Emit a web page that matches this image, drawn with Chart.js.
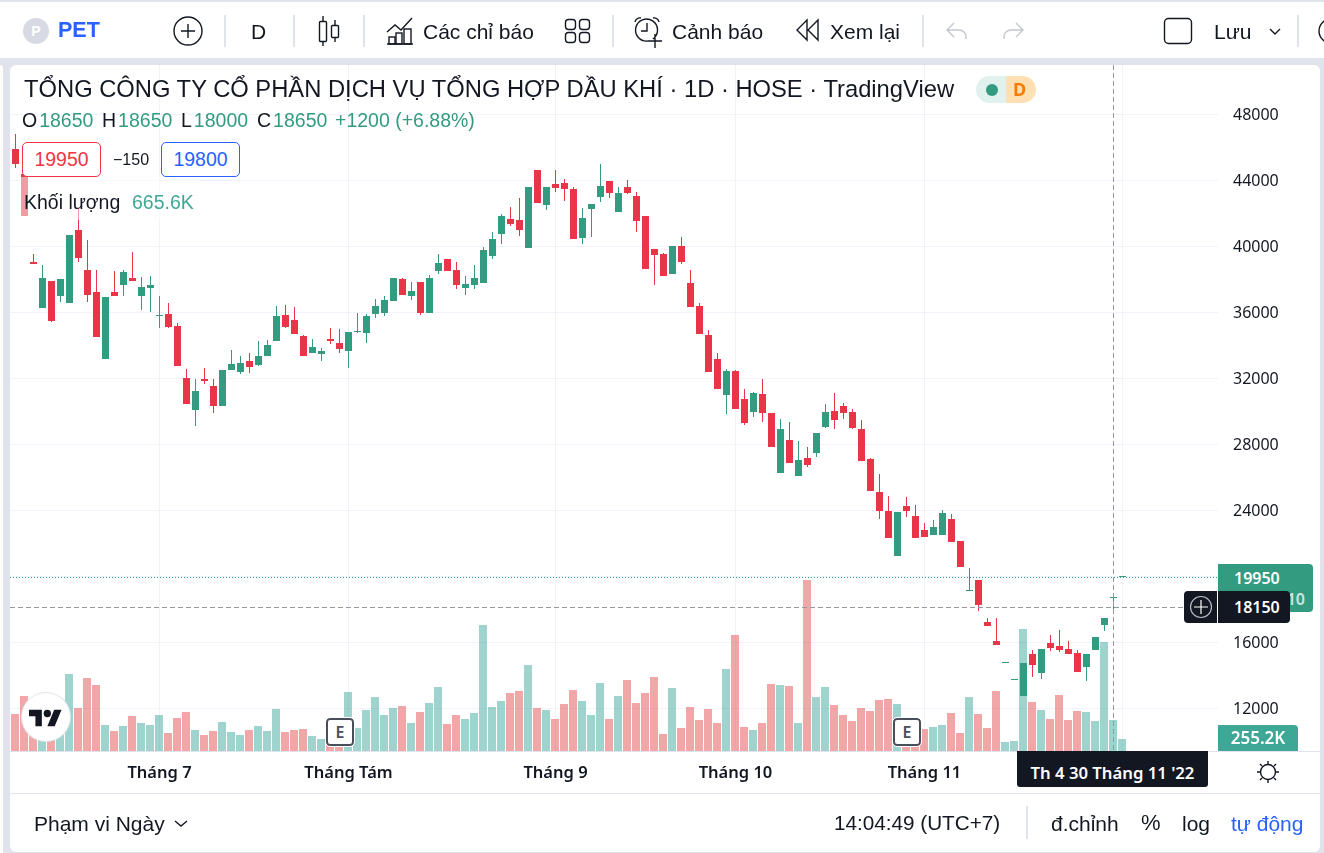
<!DOCTYPE html>
<html lang="vi">
<head>
<meta charset="utf-8">
<title>PET</title>
<script src="https://cdn.jsdelivr.net/npm/chart.js@4/dist/chart.umd.min.js"></script>
<style>
    html, body { margin: 0; padding: 0; width: 1324px; height: 853px; overflow: hidden; background: #e0e3eb; }
    body { position: relative; font-family: 'Liberation Sans', Arial, sans-serif; color: #131722; }
    canvas { position: absolute; left: 0; top: 0; z-index: 2; }
    .panel { position: absolute; background: #fff; z-index: 1; }
    .ui { position: absolute; z-index: 3; }
    .t { position: absolute; z-index: 3; white-space: nowrap; line-height: 1; transform: translateY(-50%); }
    .sep { position: absolute; z-index: 3; width: 2px; background: #e0e3eb; }
    .up { color: #339b80; }
    .chip { position: absolute; z-index: 3; box-sizing: border-box; width: 79px; height: 35px; top: 142px; background: #fff; border: 1px solid; border-radius: 5px; font-size: 19.5px; line-height: 33px; text-align: center; }
    .tag { position: absolute; z-index: 3; color: #fff; font: 600 16px 'Noto Sans', sans-serif; }
    .earn { position: absolute; z-index: 3; box-sizing: border-box; width: 28px; height: 28px; top: 718px; background: #fff; border: 2px solid #4a4e5a; border-radius: 4px; outline: 1px solid #fff; color: #4a4e5a; font: 600 16px/24px 'Noto Sans', sans-serif; text-align: center; }
    svg.ui { fill: none; stroke: #131722; stroke-width: 1.4; overflow: visible; }
</style>
</head>
<body>

<!-- page panels -->
<div class="panel" style="left:0;top:2px;width:1324px;height:56px"></div>
<div class="panel" style="left:0;top:65px;width:3px;height:788px;border-radius:0 6px 0 0"></div>
<div class="panel" style="left:10px;top:65px;width:1310px;height:787px;border-radius:6px"></div>
<div class="panel" style="left:10px;top:751px;width:1310px;height:1px;background:#e0e3eb"></div>
<div class="panel" style="left:10px;top:793px;width:1310px;height:1px;background:#e0e3eb"></div>

<canvas id="petChart" width="1324" height="853"></canvas>

<!-- top toolbar -->
<div class="ui" style="left:23px;top:18px;width:26px;height:26px;border-radius:50%;background:#d7dae3;color:#fff;font:bold 14px/26px 'Liberation Sans';text-align:center">P</div>
<div class="t" style="left:58px;top:31px;font-size:21.500px;font-weight:bold;color:#2962ff">PET</div>
<svg class="ui" style="left:0;top:0" width="1324" height="60">
    <circle cx="188" cy="31" r="14"/><path d="M181 31h14M188 24v14"/>
    <path d="M323 16v5M323 41v5M335 20v5M335 37v5"/><rect x="319.500" y="21.500" width="7" height="20" rx="1"/><rect x="331.500" y="25.500" width="7" height="12" rx="1"/>
    <path d="M387 32l8-7 6 5 11-12M387 44h26"/><rect x="389" y="37" width="6" height="7"/><rect x="396" y="33" width="6" height="11"/><rect x="404" y="29" width="7" height="15"/>
    <rect x="565.500" y="19.500" width="10" height="10" rx="3"/><rect x="579.500" y="19.500" width="10" height="10" rx="3"/><rect x="565.500" y="32.500" width="10" height="10" rx="3"/><rect x="579.500" y="32.500" width="10" height="10" rx="3"/>
    <path d="M653 39a11 11 0 1 0-5 2M647 23v8h-6M635 22a5 5 0 0 1 6-4M653 18a5 5 0 0 1 6 4M648 41h14M655 34v14"/>
    <path d="M807 20l-10 10 10 10zM818 20l-10 10 10 10z"/>
    <path d="M954 23l-7 7 7 7M947 30h12a7 7 0 0 1 7 7v2" stroke="#c3c6ce"/>
    <path d="M1016 23l7 7-7 7M1023 30h-12a7 7 0 0 0-7 7v2" stroke="#c3c6ce"/>
    <rect x="1164.500" y="18.500" width="27" height="25" rx="4"/>
    <path d="M1270 29l5 5 5-5"/>
    <circle cx="1331" cy="31" r="12"/>
</svg>
<div class="t" style="left:251px;top:31px;font-size:21px">D</div>
<div class="t" style="left:423px;top:31px;font-size:21px">Các chỉ báo</div>
<div class="t" style="left:672px;top:31px;font-size:21px">Cảnh báo</div>
<div class="t" style="left:830px;top:31px;font-size:21px">Xem lại</div>
<div class="t" style="left:1214px;top:31px;font-size:21px">Lưu</div>
<div class="sep" style="left:224px;top:15px;height:32px"></div>
<div class="sep" style="left:293px;top:15px;height:32px"></div>
<div class="sep" style="left:363px;top:15px;height:32px"></div>
<div class="sep" style="left:612px;top:15px;height:32px"></div>
<div class="sep" style="left:922px;top:15px;height:32px"></div>
<div class="sep" style="left:1297px;top:15px;height:32px"></div>

<!-- series legend -->
<div class="t" style="left:24px;top:89px;font-size:23.750px">TỔNG CÔNG TY CỔ PHẦN DỊCH VỤ TỔNG HỢP DẦU KHÍ · 1D · HOSE · TradingView</div>
<div class="ui" style="left:976px;top:76px;width:30px;height:27px;background:#e0f1ee;border-radius:14px 0 0 14px"></div>
<div class="ui" style="left:986px;top:84px;width:12px;height:12px;background:#339b80;border-radius:50%"></div>
<div class="ui" style="left:1006px;top:76px;width:30px;height:27px;background:#ffe0b2;border-radius:0 14px 14px 0;color:#f57c00;font:bold 18px/27px 'Noto Sans';text-align:center;box-sizing:border-box;padding-right:3px">D</div>
<div class="t" style="left:22px;top:121px;font-size:19.500px">O<span class="up" style="margin-left:2px">18650</span></div>
<div class="t" style="left:102px;top:121px;font-size:19.500px">H<span class="up" style="margin-left:2px">18650</span></div>
<div class="t" style="left:181px;top:121px;font-size:19.500px">L<span class="up" style="margin-left:2px">18000</span></div>
<div class="t" style="left:257px;top:121px;font-size:19.500px">C<span class="up" style="margin-left:2px">18650</span></div>
<div class="t up" style="left:335px;top:121px;font-size:19.500px">+1200 (+6.88%)</div>
<div class="chip" style="left:22px;color:#f23645;border-color:#f23645">19950</div>
<div class="t" style="left:113px;top:160px;font-size:16px">−150</div>
<div class="chip" style="left:161px;color:#2962ff;border-color:#2962ff">19800</div>
<div class="ui" style="left:20px;top:177px;width:180px;height:43px;background:rgba(255,255,255,.5)"></div>
<div class="t" style="left:24px;top:203px;font-size:19.500px">Khối lượng</div>
<div class="t" style="left:132px;top:203px;font-size:19.500px;color:#3fa796">665.6K</div>

<!-- watermark logo and earnings badges -->
<div class="ui" style="left:22px;top:693px;width:48px;height:48px;border-radius:50%;background:#fff;box-shadow:0 0 0 1px #e0e3eb"></div>
<svg class="ui" style="left:29px;top:706px;fill:#131722;stroke:none" width="33" height="26" viewBox="0 0 36 28"><path d="M14 22H7V11H0V4h14v18zM28 22h-8l7.500-18h8L28 22z"/><circle cx="20" cy="8" r="4"/></svg>
<div class="earn" style="left:326px">E</div>
<div class="earn" style="left:893px">E</div>

<!-- price scale tags -->
<div class="tag" style="left:1218px;top:564px;width:95px;height:48px;background:#339b80;border-radius:0 4px 4px 0"></div>
<div class="tag" style="left:1234px;top:569px;line-height:18px">19950</div>
<div class="tag" style="left:1264px;top:590px;line-height:18px;opacity:.75">55:10</div>
<div class="tag" style="left:1184px;top:591px;width:33px;height:32px;background:#131722;border-radius:4px 0 0 4px"></div>
<div class="tag" style="left:1218px;top:591px;width:72px;height:32px;background:#131722;border-radius:0 4px 4px 0;text-indent:16px;line-height:32px">18150</div>
<svg class="ui" style="left:1189px;top:595px;stroke:#fff;stroke-width:1.200" width="24" height="24"><circle cx="12" cy="12" r="10.500" stroke="#b8bbc2"/><path d="M5 12h14M12 5v14"/></svg>
<div class="tag" style="left:1218px;top:725px;width:80px;height:26px;background:#3fa796;border-radius:0 4px 0 0;text-align:center;font-size:17px;line-height:26px">255.2K</div>

<!-- time scale crosshair label and settings -->
<div class="tag" style="left:1017px;top:751px;width:191px;height:36px;background:#131722;border-radius:0 0 3px 3px;text-align:center;font-size:16.700px;line-height:44px">Th 4 30 Tháng 11 '22</div>
<svg class="ui" style="left:1256px;top:760px" width="24" height="24"><circle cx="12" cy="12" r="7.500"/><path d="M12 1v3M12 20v3M1 12h3M20 12h3M4 4l2 2M18 18l2 2M20 4l-2 2M6 18l-2 2"/></svg>

<!-- bottom bar -->
<div class="t" style="left:34px;top:823px;font-size:21px">Phạm vi Ngày</div>
<svg class="ui" style="left:174px;top:820px" width="14" height="8"><path d="M1 1l6 5 6-5"/></svg>
<div class="t" style="left:834px;top:823px;font-size:20.700px">14:04:49 (UTC+7)</div>
<div class="sep" style="left:1026px;top:806px;height:33px"></div>
<div class="t" style="left:1051px;top:823px;font-size:21px">đ.chỉnh</div>
<div class="t" style="left:1141px;top:823px;font-size:22px">%</div>
<div class="t" style="left:1182px;top:823px;font-size:21px">log</div>
<div class="t" style="left:1231px;top:823px;font-size:21px;color:#2962ff">tự động</div>

<script>
document.addEventListener('DOMContentLoaded', function () {

    // ── Daily OHLC and volume (volume in thousands) ──
    const opens = [
        45900, 44350, 39050, 36250, 37900, 36950, 36550, 40950, 38550, 37200,
        33150, 37200, 37650, 38050, 36950, 37450, 35750, 35900, 35150, 32000,
        30050, 31950, 31500, 30300, 32500, 32350, 33050, 32800, 33350, 34250,
        35800, 35500, 34550, 33500, 33450, 34350, 34100, 33650, 34800, 34750,
        35900, 35950, 36650, 38000, 36950, 37800, 35950, 38500, 39200, 38550,
        37450, 37650, 37750, 39400, 40750, 41650, 41600, 39900, 44600, 42500,
        43750, 43800, 43450, 40500, 42250, 42950, 43950, 42050, 43600, 43050,
        41800, 39800, 39500, 38300, 40000, 37750, 36350, 34600, 33150, 30950,
        32400, 30750, 29950, 31050, 29900, 26250, 28250, 26050, 27150, 27450,
        29050, 30000, 30300, 29950, 28900, 27100, 25100, 23950, 21200, 24250,
        23650, 22800, 22500, 22500, 23450, 22100, 19100, 19750, 17200, 16050,
        14750, 13700, 12750, 15250, 14100, 15950, 15750, 15600, 15350, 14500,
        15500, 17050, 18650, 19950
    ];
    const highs = [
        46800, 44350, 39500, 38850, 37900, 38000, 40650, 42300, 40350, 38550,
        36900, 38500, 38550, 39650, 38100, 38200, 36950, 36550, 35350, 32550,
        31950, 32600, 31950, 32500, 33700, 33350, 33500, 34250, 34300, 36350,
        36400, 36300, 34600, 34350, 33800, 35050, 34950, 34800, 35950, 35900,
        36800, 36950, 38050, 38050, 37800, 37800, 38250, 39500, 39200, 39050,
        38200, 38850, 39950, 40850, 41950, 42350, 42900, 43600, 44600, 43600,
        44600, 44050, 43600, 42300, 42550, 44950, 43950, 43600, 44000, 43250,
        41800, 39800, 39600, 40000, 40550, 38550, 36550, 34900, 33500, 32550,
        32500, 31350, 31150, 31950, 29900, 29500, 29350, 28200, 27800, 28650,
        30400, 31100, 30500, 30100, 29450, 27150, 26200, 24850, 23900, 24800,
        24300, 23200, 23400, 24000, 23750, 22100, 20500, 19750, 17450, 17450,
        14800, 13750, 14750, 15500, 15600, 16400, 16750, 16050, 15500, 15250,
        16300, 17450, 18650, 19950
    ];
    const lows = [
        44750, 41800, 38900, 36250, 35400, 36600, 36550, 39050, 36600, 34500,
        33150, 36950, 36950, 37900, 36100, 36000, 35050, 35050, 32750, 30400,
        29100, 31650, 29900, 30300, 32500, 32250, 32300, 32750, 33350, 34250,
        35050, 34650, 33350, 33500, 33050, 34050, 33500, 32600, 34750, 34100,
        35650, 35750, 36650, 37050, 36750, 35800, 35950, 38300, 38500, 37400,
        37050, 37400, 37750, 39200, 40100, 41200, 40600, 39900, 42600, 42200,
        43250, 42750, 40400, 40100, 40550, 42650, 42900, 42050, 43150, 40850,
        38600, 37650, 38200, 38300, 38900, 36300, 34650, 32350, 31350, 29800,
        30100, 29150, 29650, 29350, 27800, 26250, 26850, 26050, 26600, 27200,
        28950, 28900, 29500, 28900, 26950, 25150, 23450, 22300, 21200, 23600,
        22300, 22350, 22500, 22500, 22050, 20550, 19100, 17900, 16950, 15800,
        14750, 13700, 12750, 13900, 13750, 15450, 15400, 15250, 14200, 13650,
        15500, 16650, 18000, 19950
    ];
    const closes = [
        44950, 41800, 38900, 38050, 35450, 38000, 40650, 39250, 37050, 34500,
        36900, 36950, 38400, 37900, 37500, 37650, 35800, 35100, 32750, 30400,
        31200, 31800, 30300, 32500, 32850, 32900, 32650, 33350, 34000, 35750,
        35100, 34650, 33350, 33900, 33650, 34250, 33750, 34800, 34850, 35750,
        36350, 36750, 38050, 37050, 37250, 35950, 38050, 38950, 38500, 37650,
        37700, 38050, 39750, 40400, 41800, 41350, 40950, 43600, 42600, 43600,
        43500, 43450, 40400, 41700, 42550, 43650, 43200, 43200, 43200, 41500,
        38600, 39450, 38200, 40000, 39050, 36300, 34650, 32350, 31350, 32400,
        30100, 29250, 31100, 29900, 27800, 28900, 26850, 27050, 26750, 28650,
        29950, 29450, 29900, 28950, 26950, 25150, 23950, 22300, 23900, 23950,
        22300, 22350, 22950, 23800, 22050, 20550, 19150, 18250, 16950, 15800,
        14800, 13750, 14750, 14600, 15600, 15650, 15500, 15250, 14200, 15250,
        16300, 17450, 18650, 19950
    ];
    const volumes = [
        788, 1172, 639, 533, 426, 639, 1640, 916, 1555, 1406,
        554, 426, 533, 746, 596, 554, 767, 383, 703, 831,
        447, 341, 426, 618, 405, 341, 447, 533, 426, 895,
        405, 447, 469, 320, 256, 298, 298, 1257, 490, 873,
        1150, 767, 916, 959, 596, 831, 1022, 1363, 575, 767,
        682, 809, 2684, 937, 1065, 1235, 1278, 1832, 916, 873,
        682, 1001, 1299, 1065, 767, 1448, 682, 1172, 1512, 1022,
        1235, 1576, 362, 1342, 490, 937, 660, 895, 596, 1747,
        2471, 511, 447, 596, 1427, 1406, 1385, 596, 3642, 1150,
        1363, 980, 767, 639, 916, 852, 1086, 1108, 1001, 533,
        426, 469, 511, 554, 809, 383, 1150, 788, 490, 1278,
        192, 213, 2599, 1044, 873, 682, 1193, 660, 852, 831,
        639, 2322, 665.6, 255.2
    ];

    const priceTicks  = [48000, 44000, 40000, 36000, 32000, 28000, 24000, 20000, 16000, 12000];
    const monthTicks  = [16, 37, 60, 80, 101, 123];
    const monthLabels = ['Tháng 7', 'Tháng Tám', 'Tháng 9', 'Tháng 10', 'Tháng 11', 'Tháng 12'];

    const lastPrice   = 19950;
    const cursorPrice = 18150;
    const cursorIndex = 122;

    // ── Colours ──
    const UP        = '#339b80';
    const DOWN      = '#e93548';
    const UP_VOL    = 'rgba(40, 160, 145, .45)';
    const DOWN_VOL  = 'rgba(228, 80, 80, .5)';
    const GRID      = '#f0f3fa';
    const AXIS_FONT = "'Noto Sans', sans-serif";

    const isUp = opens.map((o, i) => closes[i] >= o);

    // keep bar edges on whole pixels so bodies stay crisp
    const snapBars = {
        id: 'snapBars',
        beforeDatasetsDraw(chart) {
            chart.getSortedVisibleDatasetMetas().forEach(meta => {
                meta.data.forEach(el => {
                    el.y = Math.round(el.y);
                    el.base = Math.round(el.base);
                });
            });
        }
    };

    // last price line and the dashed crosshair
    const priceLines = {
        id: 'priceLines',
        afterDatasetsDraw(chart) {
            const { ctx, chartArea: area, scales } = chart;
            const lastY = Math.round(scales.y.getPixelForValue(lastPrice)) + .5;
            const curY  = Math.round(scales.y.getPixelForValue(cursorPrice)) + .5;
            const curX  = Math.floor(scales.x.getPixelForValue(cursorIndex)) + .5;

            ctx.save();
            ctx.lineWidth = 1;

            ctx.strokeStyle = UP;
            ctx.setLineDash([1, 2]);
            ctx.beginPath();
            ctx.moveTo(area.left, lastY);
            ctx.lineTo(area.right, lastY);
            ctx.stroke();

            ctx.strokeStyle = '#9598a1';
            ctx.setLineDash([5, 3]);
            ctx.beginPath();
            ctx.moveTo(area.left, curY);
            ctx.lineTo(area.right, curY);
            ctx.moveTo(curX, area.top);
            ctx.lineTo(curX, area.bottom);
            ctx.stroke();
            ctx.restore();
        }
    };

    const index = opens.map((_, i) => i);

    new Chart(document.getElementById('petChart'), {
        type: 'bar',
        data: {
            datasets: [
                {
                    label: 'Thân nến',
                    data: index.map(i => ({ x: i, y: [opens[i], closes[i]] })),
                    backgroundColor: isUp.map(u => u ? UP : DOWN),
                    barThickness: 7,
                    minBarLength: 1,
                    inflateAmount: 0,
                    grouped: false,
                    order: 1
                },
                {
                    label: 'Bóng nến',
                    data: index.map(i => ({ x: i, y: [lows[i], highs[i]] })),
                    backgroundColor: isUp.map(u => u ? UP : DOWN),
                    barThickness: 1,
                    inflateAmount: 0,
                    grouped: false,
                    order: 2
                },
                {
                    label: 'Khối lượng',
                    data: index.map(i => ({ x: i, y: volumes[i] })),
                    backgroundColor: isUp.map(u => u ? UP_VOL : DOWN_VOL),
                    barThickness: 8,
                    inflateAmount: 0,
                    grouped: false,
                    xAxisID: 'xv',
                    yAxisID: 'yv',
                    order: 3
                }
            ]
        },
        options: {
            responsive: false,
            animation: false,
            layout: { padding: { left: 10, top: 65, right: 0, bottom: 0 } },
            plugins: { legend: { display: false }, tooltip: { enabled: false } },
            events: [],
            scales: {
                x: {
                    type: 'linear',
                    offset: false,
                    min: -0.6111,
                    max: 133.6111,
                    grid: { color: GRID, offset: false, drawTicks: false },
                    border: { display: false },
                    afterBuildTicks(s) { s.ticks = monthTicks.map(v => ({ value: v })); },
                    afterFit(s) { s.height = 102; },
                    ticks: {
                        autoSkip: false,
                        maxRotation: 0,
                        padding: 12,
                        color: '#131722',
                        font: { family: AXIS_FONT, size: 16.5, weight: '600' },
                        callback: v => monthLabels[monthTicks.indexOf(v)]
                    }
                },
                // volume bars sit half a pixel left of the candles
                xv: {
                    type: 'linear',
                    display: false,
                    offset: false,
                    min: -0.5556,
                    max: 133.6667,
                    grid: { offset: false }
                },
                y: {
                    position: 'right',
                    min: 9394,
                    max: 50970,
                    grid: { color: GRID, drawTicks: false },
                    border: { display: false },
                    afterBuildTicks(s) { s.ticks = priceTicks.map(v => ({ value: v })); },
                    afterFit(s) { s.width = 106; },
                    ticks: {
                        padding: 15,
                        labelOffset: 1,
                        color: '#131722',
                        font: { family: AXIS_FONT, size: 16 },
                        callback: v => String(v)
                    }
                },
                yv: {
                    display: false,
                    min: 0,
                    max: 14612
                }
            }
        },
        plugins: [snapBars, priceLines]
    });

});
</script>
</body>
</html>
